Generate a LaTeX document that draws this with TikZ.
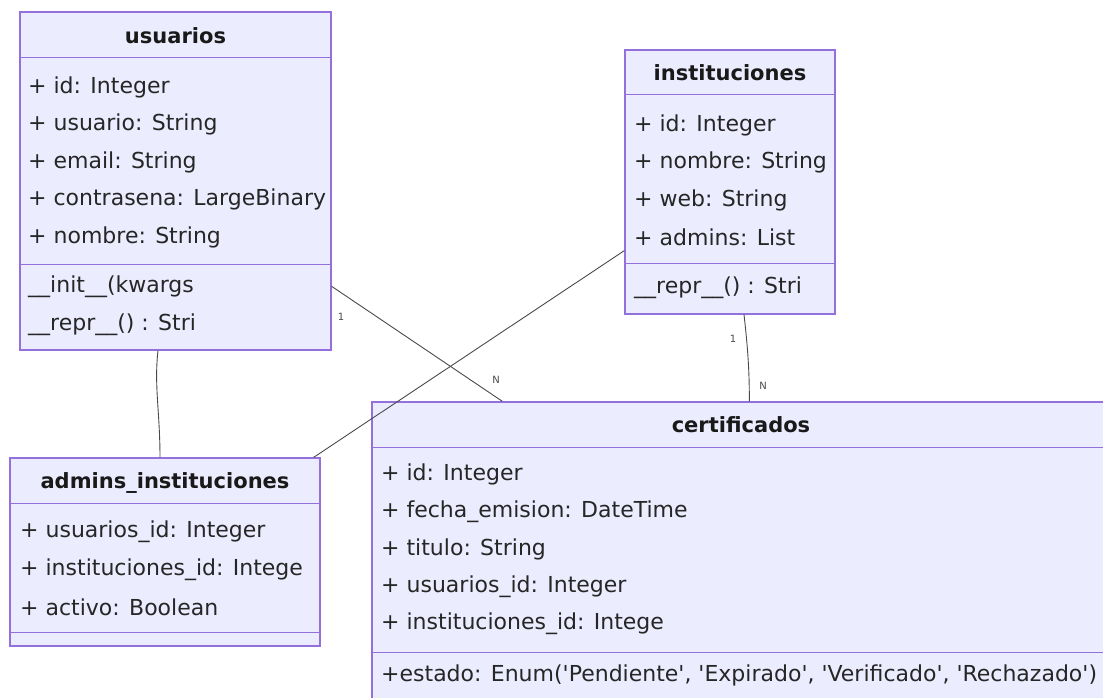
\documentclass[tikz,border=0pt]{standalone}
\usepackage{fontspec}
\setmainfont{DejaVu Sans}
\definecolor{classfill}{HTML}{ECECFF}
\definecolor{classline}{HTML}{9370DB}
\definecolor{relline}{HTML}{4A4A4A}
\newcommand{\sq}{\textquotesingle}
\tikzset{
  classbox/.style={draw=classline,fill=classfill,line width=1.3pt,rectangle,inner sep=0pt},
  sepline/.style={draw=classline,line width=1.3pt},
  attr/.style={anchor=west,inner sep=0pt,text=black!85,font=\fontsize{22}{26}\selectfont},
  classtitle/.style={inner sep=0pt,text=black!90,font=\fontsize{21}{25}\selectfont\bfseries},
  rel/.style={draw=relline,line width=0.9pt},
  card/.style={inner sep=0pt,text=relline,font=\fontsize{10}{11}\selectfont}
}
\begin{document}
\begin{tikzpicture}[x=1pt,y=-1pt]
    \clip (0,0) rectangle (1103,698);
    \fill[white] (0,0) rectangle (1103,698);
    % class boxes
    \node[classbox,minimum width=311pt,minimum height=338pt] (usu) at (175.5,181) {};
    \node[classbox,minimum width=210pt,minimum height=264pt] (inst) at (730,182) {};
    \node[classbox,minimum width=310pt,minimum height=188pt] (adm) at (165,552) {};
    \node[classbox,minimum width=740pt,minimum height=310pt] (cert) at (742,557) {};
    \draw[sepline] ([yshift=-46pt]usu.north west) -- ([yshift=-46pt]usu.north east);
    \draw[sepline] ([yshift=-253pt]usu.north west) -- ([yshift=-253pt]usu.north east);
    \draw[sepline] ([yshift=-45pt]inst.north west) -- ([yshift=-45pt]inst.north east);
    \draw[sepline] ([yshift=-214pt]inst.north west) -- ([yshift=-214pt]inst.north east);
    \draw[sepline] ([yshift=-46pt]adm.north west) -- ([yshift=-46pt]adm.north east);
    \draw[sepline] ([yshift=-175pt]adm.north west) -- ([yshift=-175pt]adm.north east);
    \draw[sepline] ([yshift=-46pt]cert.north west) -- ([yshift=-46pt]cert.north east);
    \draw[sepline] ([yshift=-251pt]cert.north west) -- ([yshift=-251pt]cert.north east);
    % titles
    \node[classtitle] (usu-t) at (175.5,36) {usuarios};
    \node[classtitle] (inst-t) at (730,73) {instituciones};
    \node[classtitle] (adm-t) at (165,483) {admins\_instituciones};
    \node[classtitle] (cert-t) at (741,425) {certificados};
    % members
    \foreach \txt [count=\i] in {{+ id: Integer},{+ usuario: String},{+ email: String},{+ contrasena: LargeBinary},{+ nombre: String}}
        \node[attr] (usu-a\i) at (28,{49.5+37.5*\i}) {\txt};
    \foreach \txt [count=\i] in {{\_\_init\_\_(kwargs},{\_\_repr\_\_() : Stri}}
        \node[attr] (usu-m\i) at (28,{249.5+37.5*\i}) {\txt};
    \foreach \txt [count=\i] in {{+ id: Integer},{+ nombre: String},{+ web: String},{+ admins: List}}
        \node[attr] (inst-a\i) at (634,{87.5+37.5*\i}) {\txt};
    \node[attr] (inst-m1) at (634,288) {\_\_repr\_\_() : Stri};
    \foreach \txt [count=\i] in {{+ usuarios\_id: Integer},{+ instituciones\_id: Intege},{+ activo: Boolean}}
        \node[attr] (adm-a\i) at (20,{494.5+37.5*\i}) {\txt};
    \foreach \txt [count=\i] in {{+ id: Integer},{+ fecha\_emision: DateTime},{+ titulo: String},{+ usuarios\_id: Integer},{+ instituciones\_id: Intege}}
        \node[attr] (cert-a\i) at (381,{436.5+37.5*\i}) {\txt};
    \node[attr] (cert-m1) at (381,675) {+estado: Enum(\sq Pendiente\sq, \sq Expirado\sq, \sq Verificado\sq, \sq Rechazado\sq)};
    % relations
    \draw[rel] (usu.-34.3) -- ([xshift=131pt]cert.north west);
    \draw[rel] (inst.213.7) -- ([xshift=-7pt]adm.north east);
    \draw[rel] ([xshift=-17.5pt]usu.south) .. controls +(-4,35) and +(0,-45) .. ([xshift=-5pt]adm.north);
    \draw[rel] ([xshift=14pt]inst.south) .. controls +(4,35) and +(0,-30) .. ([xshift=378pt]cert.north west);
    \node[card] (c-usu) at (341,317) {1};
    \node[card] (c-cert1) at (496,380) {N};
    \node[card] (c-inst) at (733,339) {1};
    \node[card] (c-cert2) at (763,386) {N};
\end{tikzpicture}
\end{document}
